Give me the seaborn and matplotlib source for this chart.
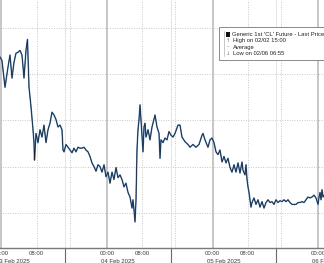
import matplotlib
matplotlib.use("Agg")
import matplotlib.pyplot as plt
import matplotlib.transforms as mtransforms
from matplotlib.patches import Rectangle
from matplotlib.lines import Line2D
import seaborn as sns
import pandas as pd

# hours since 03 Feb 2025 00:00
hours = [-0.34, 0.11, 0.80, 1.48, 1.93, 2.39, 2.84, 3.30, 3.75, 4.21, 4.66, 5.12, 5.57, 5.91,
         6.26, 6.71, 7.17, 7.39, 7.51, 7.85, 8.30, 8.76, 9.21, 9.67, 10.12, 10.58, 11.03, 11.49,
         11.94, 12.40, 12.85, 13.31, 13.76, 13.99, 14.22, 14.67, 15.13, 15.58, 16.04, 16.49,
         16.95, 17.40, 17.86, 18.31, 18.77, 19.22, 19.68, 20.13, 20.59, 21.04, 21.50, 21.95,
         22.41, 22.86, 23.32, 23.77, 24.23, 24.68, 25.14, 25.59, 26.05, 26.50, 26.96, 27.41,
         27.87, 28.32, 28.78, 29.23, 29.46, 29.69, 29.91, 30.14, 30.37, 30.60, 30.82, 31.05,
         31.28, 31.51, 31.73, 31.96, 32.19, 32.42, 32.64, 32.87, 33.33, 33.78, 34.24, 34.92,
         35.37, 35.83, 36.06, 36.28, 36.74, 37.19, 37.65, 38.10, 38.56, 39.01, 39.47, 40.15,
         40.61, 41.06, 41.74, 42.42, 42.88, 43.56, 44.24, 44.93, 45.61, 45.84, 46.29, 46.97,
         47.43, 47.88, 48.34, 48.79, 49.25, 49.70, 50.16, 50.61, 51.07, 51.52, 51.98, 52.43,
         52.89, 53.34, 53.80, 54.25, 54.71, 54.94, 55.39, 55.62, 55.85, 56.07, 56.30, 56.53,
         56.75, 56.98, 57.44, 57.89, 58.35, 58.80, 59.26, 59.71, 60.17, 60.62, 61.08, 61.53,
         61.99, 62.44, 62.90, 63.35, 63.81, 64.26, 64.72, 65.17, 65.63, 66.08, 66.54, 66.99,
         67.45, 67.90, 68.36, 68.81, 69.27, 69.72, 70.18, 70.63, 71.09, 71.54, 72.00, 72.23,
         72.46, 72.69, 72.91, 73.14, 73.37]
prices = [73.69, 73.65, 73.36, 73.58, 73.71, 73.46, 73.63, 73.73, 73.74, 73.76, 73.71, 73.46, 73.76, 73.88,
          73.36, 73.15, 72.90, 72.76, 72.57, 72.86, 72.76, 72.90, 72.82, 72.95, 72.76, 72.90, 72.97, 73.09,
          73.06, 73.01, 72.93, 72.95, 72.90, 72.68, 72.66, 72.74, 72.71, 72.68, 72.65, 72.70,
          72.66, 72.71, 72.70, 72.70, 72.71, 72.68, 72.66, 72.61, 72.54, 72.50, 72.45, 72.52,
          72.50, 72.44, 72.52, 72.39, 72.44, 72.32, 72.44, 72.36, 72.49, 72.38, 72.41, 72.36,
          72.28, 72.32, 72.22, 72.17, 72.11, 72.05, 72.14, 72.03, 71.90, 72.14, 72.68, 72.90,
          73.01, 73.17, 73.01, 72.86, 72.66, 72.93, 72.97, 72.82, 72.90, 72.79, 72.93, 73.06,
          72.93, 72.86, 72.59, 72.79, 72.76, 72.81, 72.79, 72.88, 72.84, 72.82, 72.86, 72.95,
          72.95, 72.82, 72.77, 72.74, 72.71, 72.74, 72.71, 72.74, 72.84, 72.86, 72.79, 72.71,
          72.79, 72.81, 72.76, 72.66, 72.63, 72.68, 72.55, 72.61, 72.54, 72.59, 72.49, 72.44,
          72.52, 72.44, 72.54, 72.43, 72.55, 72.46, 72.41, 72.52, 72.36, 72.28, 72.22, 72.14,
          72.06, 72.11, 72.16, 72.09, 72.14, 72.06, 72.12, 72.05, 72.11, 72.14, 72.11, 72.12,
          72.09, 72.14, 72.11, 72.13, 72.12, 72.14, 72.12, 72.14, 72.11, 72.09, 72.09, 72.09,
          72.11, 72.11, 72.12, 72.11, 72.14, 72.17, 72.16, 72.17, 72.19, 72.16, 72.09, 72.17,
          72.22, 72.14, 72.25, 72.17, 72.19]

hour_ticks = [0, 8, 24, 32, 48, 56, 72]
hour_labels = ["00:00", "08:00", "00:00", "08:00", "00:00", "08:00", "00:00"]
day_label_pos = [2.5, 26.5, 50.5, 74.5]
day_labels = ["03 Feb 2025", "04 Feb 2025", "05 Feb 2025", "06 Feb 2025"]
price_grid = [72.0, 72.5, 73.0, 73.5, 74.0]
legend_lines = ["Generic 1st 'CL' Future - Last Price", "High on 02/02 15:00", "Average", "Low on 02/06 06:55"]

sns.set_style("white")
plt.rcParams['font.family'] = ['Liberation Sans', 'DejaVu Sans']

df = pd.DataFrame({"hour": hours, "price": prices})

fig = plt.figure(figsize=(3.24, 2.63), dpi=100)
ax = fig.add_axes([0, 15 / 263, 1, 248 / 263])

# gridlines
for p in price_grid:
    ax.axhline(p, color="#c8c8c8", lw=0.7, ls=(0, (1, 1.5)), zorder=0)
for d in [0, 24, 48, 72]:
    ax.axvline(d, color="#bcbcbc", lw=1.2, zorder=0)
    ax.axvline(d + 8, color="#c8c8c8", lw=0.7, ls=(0, (1, 1.5)), zorder=0)
    ax.axvline(d + 15.5, color="#c8c8c8", lw=0.7, ls=(0, (1, 1.5)), zorder=0)
    ax.axvline(d + 14.5, color="#e0e0e0", lw=0.6, zorder=0)

sns.lineplot(data=df, x="hour", y="price", ax=ax, color="#5a8fc6", lw=1.1,
             estimator=None, sort=False, zorder=3)
sns.lineplot(data=df, x="hour", y="price", ax=ax, color="#16202b", lw=0.55,
             estimator=None, sort=False, zorder=4)

ax.set_xlim(-0.34, 73.36)
ax.set_ylim(71.617, 74.307)
ax.set_xlabel("")
ax.set_ylabel("")
ax.set_yticks(price_grid)
ax.set_yticklabels([])
ax.tick_params(axis="y", length=0)
ax.set_xticks(hour_ticks)
ax.set_xticklabels(hour_labels, fontsize=4.3, color="#3a3a3a")
ax.set_xticks([h for h in range(0, 74, 4) if h not in hour_ticks], minor=True)
ax.tick_params(axis="x", which="major", length=1.5, width=0.5, pad=0.6, color="#888888")
ax.tick_params(axis="x", which="minor", length=1.2, width=0.5, color="#888888")
for s in ["top", "right", "left"]:
    ax.spines[s].set_visible(False)
ax.spines["bottom"].set_color("#7a7a7a")
ax.spines["bottom"].set_linewidth(1.0)

trans = mtransforms.blended_transform_factory(ax.transData, ax.transAxes)
for d in [-24, 0, 24, 48, 72]:
    ax.add_line(Line2D([d + 14.5, d + 14.5], [0, -0.07], transform=trans, color="#6a6a6a",
                       lw=0.8, clip_on=False))
for pos, lab in zip(day_label_pos, day_labels):
    ax.text(pos, -0.053, lab, transform=trans, ha="center", va="center", fontsize=4.3,
            color="#3a3a3a", clip_on=False)

# legend box
H = 263.0
W = 324.0
fig.patches.append(Rectangle((219 / W, 1 - 60 / H), 0.5, 33 / H, transform=fig.transFigure,
                             facecolor="white", edgecolor="#8a8a8a", lw=0.7, zorder=10))
fig.add_artist(Line2D([224 / W, 224 / W], [1 - 31 / H, 1 - 56 / H], transform=fig.transFigure,
                      color="#b0b0b0", lw=0.5, zorder=11))
fig.patches.append(Rectangle((226 / W, 1 - 36.5 / H), 4.5 / W, 4.5 / H, transform=fig.transFigure,
                             facecolor="#111111", edgecolor="none", zorder=11))
ys = [34, 40.5, 47, 53.5]
syms = ["", "\u2191", "\u2013", "\u2193"]
for i, (yy, txt) in enumerate(zip(ys, legend_lines)):
    fig.text(232 / W if i == 0 else 233 / W, 1 - yy / H, txt, fontsize=4.2, color="#222222",
             va="center", ha="left", zorder=12)
    if syms[i]:
        fig.text(228.5 / W, 1 - yy / H, syms[i], fontsize=3.8, color="#777777",
                 va="center", ha="center", zorder=12, family=["DejaVu Sans"])

fig.savefig("out.png", dpi=100)
